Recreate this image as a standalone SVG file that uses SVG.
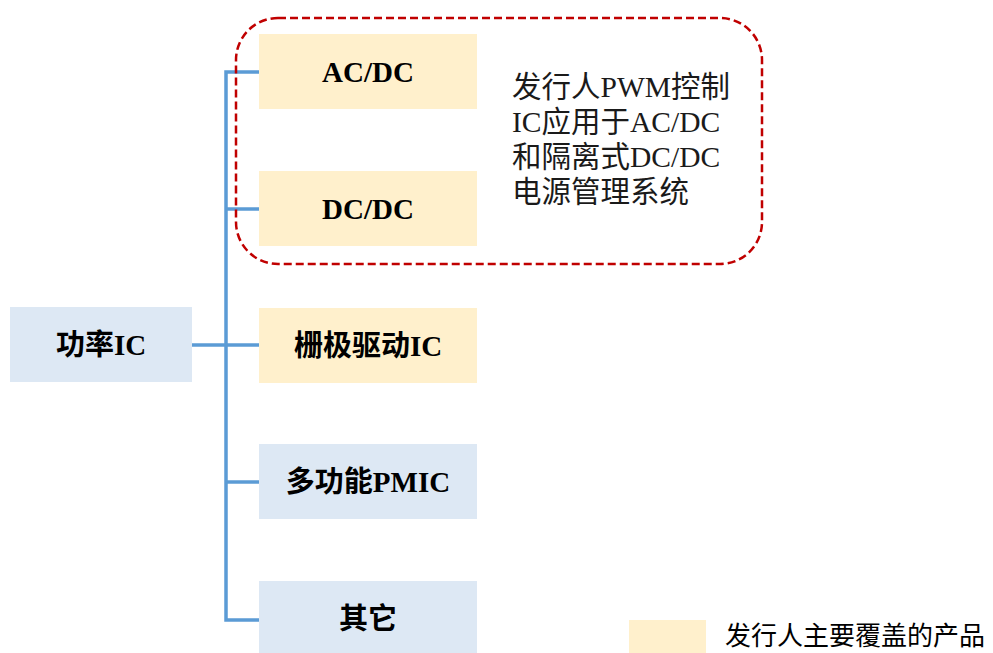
<svg xmlns="http://www.w3.org/2000/svg" width="993" height="653" viewBox="0 0 993 653">
<style>
.y{fill:#FFF0CC}
.b{fill:#DDE8F4}
.t{font-family:"Liberation Serif","Noto Sans CJK SC",serif;font-weight:bold;font-size:29px;fill:#000;text-anchor:middle;dominant-baseline:central}
.d{font-family:"Liberation Serif","Noto Sans CJK SC",serif;font-size:29.5px;fill:#1a1a1a}
.c{fill:none;stroke:#5B9BD5;stroke-width:3.5}
</style>
<rect width="993" height="653" fill="#fff"/>
<g id="connectors">
<polyline class="c" points="259,72 226,72 226,620 259,620"/>
<line class="c" x1="192" y1="345" x2="259" y2="345"/>
<line class="c" x1="226" y1="209" x2="259" y2="209"/>
<line class="c" x1="226" y1="482" x2="259" y2="482"/>
</g>
<g id="root"><rect class="b" x="10" y="307" width="182" height="75"/><text class="t" x="101" y="345">功率IC</text></g>
<g id="acdc"><rect class="y" x="259" y="34" width="218" height="75"/><text class="t" x="368" y="72">AC/DC</text></g>
<g id="dcdc"><rect class="y" x="259" y="171" width="218" height="75"/><text class="t" x="368" y="209">DC/DC</text></g>
<g id="gate"><rect class="y" x="259" y="308" width="218" height="75"/><text class="t" x="368" y="346">栅极驱动IC</text></g>
<g id="pmic"><rect class="b" x="259" y="444" width="218" height="75"/><text class="t" x="368" y="482">多功能PMIC</text></g>
<g id="other"><rect class="b" x="259" y="581" width="218" height="73"/><text class="t" x="368" y="619">其它</text></g>
<g id="highlight">
<rect x="236" y="18" width="526" height="246" rx="42" ry="42" fill="none" stroke="#C00000" stroke-width="2.5" stroke-dasharray="8,4"/>
<text class="d"><tspan x="512" y="97">发行人PWM控制</tspan><tspan x="512" y="132">IC应用于AC/DC</tspan><tspan x="512" y="167">和隔离式DC/DC</tspan><tspan x="512" y="202">电源管理系统</tspan></text>
</g>
<g id="legend"><rect class="y" x="629" y="620" width="77" height="33"/><text x="725" y="645" font-family="'Noto Sans CJK SC',sans-serif" font-size="26" fill="#000">发行人主要覆盖的产品</text></g>
</svg>
